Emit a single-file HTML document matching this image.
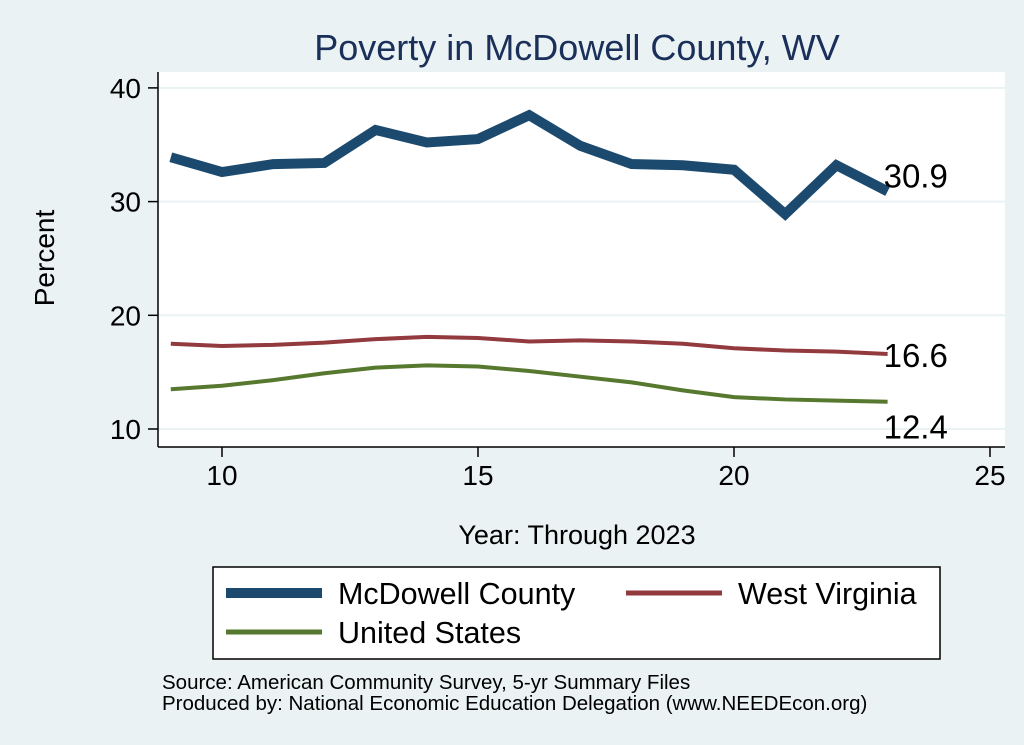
<!DOCTYPE html>
<html><head><meta charset="utf-8"><style>
body{margin:0;background:#eaf2f3;}
svg{display:block;font-family:"Liberation Sans",Arial,sans-serif;}
</style></head><body>
<svg id="chart" width="1024" height="745" viewBox="0 0 1024 745">
<rect x="0" y="0" width="1024" height="745" fill="#eaf2f3"/>
<text x="577" y="60" font-size="36" fill="#1a2f5a" text-anchor="middle">Poverty in McDowell County, WV</text>
<rect x="158" y="72" width="847" height="375" fill="#fff"/>
<g id="grid"></g>
<g id="series"></g>
<g id="axes"></g>
<text x="54" y="258" font-size="28" text-anchor="middle" transform="rotate(-90 54 258)">Percent</text>
<text x="577" y="544" font-size="27" text-anchor="middle">Year: Through 2023</text>
<g>
<rect x="213" y="567" width="727" height="92" fill="#fff" stroke="#000" stroke-width="1.5"/>
<line x1="226" y1="593" x2="322" y2="593" stroke="#1c4a6e" stroke-width="10"/>
<text x="338" y="604" font-size="30.5">McDowell County</text>
<line x1="626" y1="593" x2="722" y2="593" stroke="#923a3e" stroke-width="5"/>
<text x="738" y="604" font-size="30.5">West Virginia</text>
<line x1="226" y1="632" x2="322" y2="632" stroke="#56792f" stroke-width="5"/>
<text x="338" y="643" font-size="30.5">United States</text>
</g>
<text x="162" y="689" font-size="20.5">Source: American Community Survey, 5-yr Summary Files</text>
<text x="162" y="710" font-size="20.5">Produced by: National Economic Education Delegation (www.NEEDEcon.org)</text>
</svg>
<script>
const years=[9,10,11,12,13,14,15,16,17,18,19,20,21,22,23];
const mcdowell=[33.9,32.6,33.3,33.4,36.3,35.2,35.5,37.6,34.9,33.3,33.2,32.8,28.9,33.2,30.9];
const westVirginia=[17.5,17.3,17.4,17.6,17.9,18.1,18.0,17.7,17.8,17.7,17.5,17.1,16.9,16.8,16.6];
const unitedStates=[13.5,13.8,14.3,14.9,15.4,15.6,15.5,15.1,14.6,14.1,13.4,12.8,12.6,12.5,12.4];
const xTicks=[10,15,20,25];
const yTicks=[10,20,30,40];
const NS="http://www.w3.org/2000/svg";
const xs=v=>222+(v-10)*51.2;
const ys=v=>429-(v-10)*11.37;
function mk(tag,attrs,parent){const e=document.createElementNS(NS,tag);for(const k in attrs)e.setAttribute(k,attrs[k]);parent.appendChild(e);return e;}
const grid=document.getElementById('grid'),axes=document.getElementById('axes'),ser=document.getElementById('series');
yTicks.forEach(t=>{
 const g=mk('line',{x1:158,x2:1005,y1:ys(t),y2:ys(t),stroke:'#eaf2f3','stroke-width':2},grid);
 
 
 const tk=mk('line',{x1:148,x2:158,y1:ys(t),y2:ys(t),stroke:'#000','stroke-width':1.5},axes);
 
 
 const tx=mk('text',{x:141,y:ys(t)+10,'font-size':28,'text-anchor':'end'},axes);
 tx.textContent=t;
 
 
});
xTicks.forEach(t=>{
 const tk=mk('line',{x1:xs(t),x2:xs(t),y1:447,y2:457,stroke:'#000','stroke-width':1.5},axes);
 
 
 const tx=mk('text',{x:xs(t),y:485,'font-size':28,'text-anchor':'middle'},axes);
 tx.textContent=t;
 
 
});
const ya=mk('line',{x1:158,x2:158,y1:72,y2:447,stroke:'#000','stroke-width':1.5},axes);


const xa=mk('line',{x1:158,x2:1005,y1:447,y2:447,stroke:'#000','stroke-width':1.5},axes);


function line(vals,color,w,name,labelDy){
 const p=mk('polyline',{points:vals.map((v,i)=>xs(years[i])+','+ys(v)).join(' '),fill:'none',stroke:color,'stroke-width':w,'stroke-linejoin':'miter'},ser);
 
 
 const last=vals[vals.length-1];
 const t=mk('text',{x:xs(years[years.length-1])-4,y:ys(last)+labelDy,'font-size':33},ser);
 t.textContent=last.toFixed(1);
 
 
}
line(unitedStates,'#56792f',4,'us-line',37);
line(westVirginia,'#923a3e',4,'wv-line',13);
line(mcdowell,'#1c4a6e',10,'mcdowell-line',-4);
</script>
</body></html>
